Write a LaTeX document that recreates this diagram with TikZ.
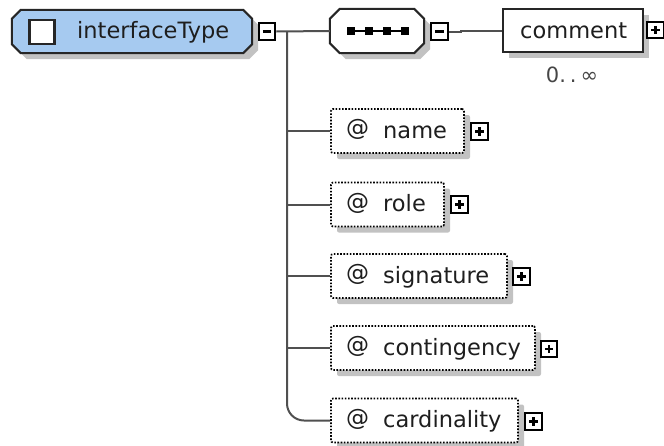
\documentclass[tikz,border=0pt]{standalone}
\usepackage{fontspec}
\setmainfont{DejaVu Sans}
\usetikzlibrary{calc,shadows}
\definecolor{itblue}{RGB}{166,202,240}
\definecolor{shadowc}{RGB}{194,194,194}
\definecolor{linec}{RGB}{80,80,80}
\definecolor{txtc}{RGB}{30,30,30}
\definecolor{occc}{RGB}{70,70,70}
\newcommand\octpath[2]{([xshift=#2]#1.north west) -- ([xshift=-#2]#1.north east) -- ([yshift=-#2]#1.north east) -- ([yshift=#2]#1.south east) -- ([xshift=-#2]#1.south east) -- ([xshift=#2]#1.south west) -- ([yshift=#2]#1.south west) -- ([yshift=-#2]#1.north west) -- cycle}
\begin{document}
\begin{tikzpicture}[x=1pt,y=-1pt,
  frame/.style={draw=none, inner sep=0, minimum height=44pt, minimum width=#1},
  shad/.style={drop shadow={shadow xshift=6pt, shadow yshift=-6pt, fill=shadowc, opacity=1}},
  outline/.style={draw=black!85, line width=2pt},
  attrbox/.style={draw=black, line width=1.7pt, dash pattern=on 1.6pt off 1.6pt, fill=white, rounded corners=2pt, inner sep=0, minimum height=44pt, minimum width=#1, shad},
  elembox/.style={draw=black!85, line width=2pt, fill=white, inner sep=0, minimum height=43pt, minimum width=#1, shad},
  pmbox/.style={draw=black, line width=2pt, fill=white, minimum size=16.5pt, inner sep=0},
  minusbox/.style={pmbox, path picture={\draw[line width=2.3pt] ($(path picture bounding box.west)+(4,0)$) -- ($(path picture bounding box.east)+(-4,0)$);}},
  plusbox/.style={pmbox, path picture={\draw[line width=2.3pt] ($(path picture bounding box.west)+(4,0)$) -- ($(path picture bounding box.east)+(-4,0)$); \draw[line width=2.3pt] ($(path picture bounding box.north)+(0,4)$) -- ($(path picture bounding box.south)+(0,-4)$);}},
  conn/.style={draw=linec, line width=2pt},
  lbl/.style={font=\fontsize{22.5}{26}\selectfont, text=txtc, inner sep=0, anchor=base west},
  atsign/.style={font=\fontsize{23}{26}\selectfont, text=txtc, inner sep=0, anchor=center},
  seqdot/.style={fill=black, minimum size=7.5pt, inner sep=0}
]
\useasboundingbox (0,0) rectangle (664,445);

% interfaceType complex type
\node[frame=240pt, minimum height=43pt] (it) at (132,31.5) {};
\path[fill=itblue, outline, shad] \octpath{it}{9pt};
\node[draw=black!85, line width=2.4pt, fill=white, minimum width=25pt, minimum height=24pt, inner sep=0] (itsq) at (42,32) {};
\node[lbl] (itlbl) at (77,38) {interfaceType};
\node[minusbox] (m1) at (267,31.5) {};

% sequence compositor
\node[frame=94pt] (seq) at (377,31) {};
\path[fill=white, outline, shad] \octpath{seq}{10pt};
\node[seqdot] (d1) at (351,31) {};
\node[seqdot] (d2) at (369,31) {};
\node[seqdot] (d3) at (387,31) {};
\node[seqdot] (d4) at (405,31) {};
\draw[line width=2.4pt] (d1) -- (d2) -- (d3) -- (d4);
\node[minusbox] (m2) at (439.5,31.5) {};

% comment element
\node[elembox=140pt] (comment) at (573,30.5) {};
\node[lbl] (clbl) at (520,38) {comment};
\node[plusbox] (pc) at (655.5,30) {};
\node[font=\fontsize{21}{24}\selectfont, text=occc, inner sep=0] (occ) at (572,75) {0.\kern4pt.\kern4pt∞};

% attributes
\node[attrbox=133pt] (name) at (397.5,131) {};
\node[atsign] (at1) at (357.5,129.5) {@};
\node[lbl] (l1) at (383,138) {name};
\node[plusbox] (p1) at (479.5,131.5) {};

\node[attrbox=113pt] (role) at (387.5,204.5) {};
\node[atsign] (at2) at (357.5,203) {@};
\node[lbl] (l2) at (383,211.5) {role};
\node[plusbox] (p2) at (459.5,204.5) {};

\node[attrbox=176pt] (signature) at (419,276) {};
\node[atsign] (at3) at (357.5,274.5) {@};
\node[lbl] (l3) at (383,283) {signature};
\node[plusbox] (p3) at (521.5,276.5) {};

\node[attrbox=204pt] (contingency) at (433,348) {};
\node[atsign] (at4) at (357.5,346.5) {@};
\node[lbl] (l4) at (383,355) {contingency};
\node[plusbox] (p4) at (549,349) {};

\node[attrbox=187pt] (cardinality) at (424.5,420.5) {};
\node[atsign] (at5) at (357.5,419) {@};
\node[lbl] (l5) at (383,427.5) {cardinality};
\node[plusbox] (p5) at (533.5,421.5) {};

% connectors
\coordinate (tx) at (287,0);
\draw[conn] (m1.east) -- (seq.west);
\draw[conn] (m2.east) -- ++(12,0) |- (comment.west);
\foreach \n in {name,role,signature,contingency}
  \draw[conn] (m1.east -| tx) |- (\n.west);
\draw[conn, rounded corners=17pt] (m1.east -| tx) |- (cardinality.west);
\end{tikzpicture}
\end{document}
